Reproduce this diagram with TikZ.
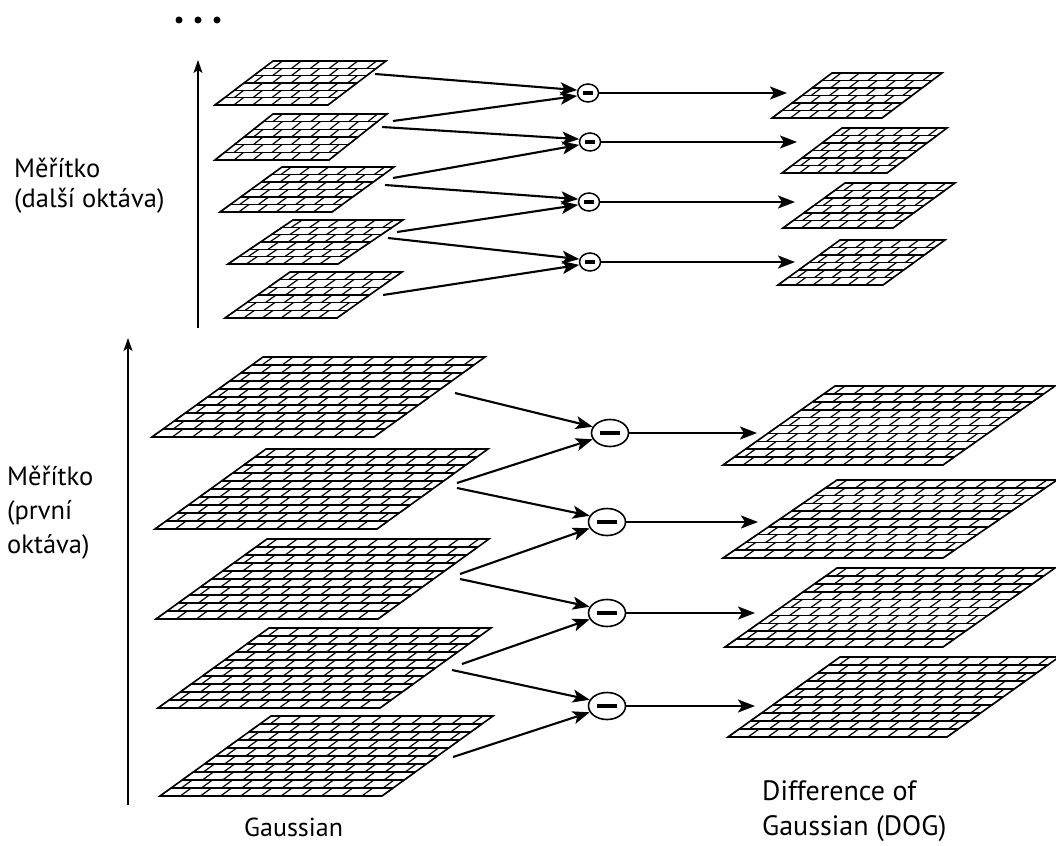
\documentclass[tikz,border=0pt]{standalone}
\usepackage{fontspec}
\setmainfont{PT Sans}
\usetikzlibrary{arrows.meta,shapes.geometric}

% Brick-patterned parallelogram: #1,#2 bottom-left corner, #3 width,
% #4 height, #5 horizontal shear, #6 rows, #7 column slots
\newcommand{\brickgrid}[7]{%
  \begin{scope}[gridline]
    \draw (#1,#2) -- ++(#3,0) -- ++(#5,-#4) -- ++(-#3,0) -- cycle;
    \pgfmathtruncatemacro\bgrows{#6-1}
    \foreach \k in {1,...,\bgrows}{
      \draw ({#1+#5*\k/#6},{#2-#4*\k/#6}) -- ++(#3,0);
    }
    \foreach \k in {0,...,\bgrows}{
      \pgfmathtruncatemacro\bgcs{mod(\k,2)}
      \pgfmathtruncatemacro\bgcn{\bgcs+2}
      \foreach \c in {\bgcs,\bgcn,...,#7}{
        \draw[brickjoint] ({#1+#3*\c/#7+#5*\k/#6},{#2-#4*\k/#6}) -- ++({#5/#6},{-#4/#6});
      }
    }
  \end{scope}}

\begin{document}
\begin{tikzpicture}[x=1pt,y=-1pt,
  gridline/.style={line width=1.6pt,black},
  brickjoint/.style={line width=1.2pt},
  arr/.style={line width=2.1pt,-{Stealth[length=17pt,width=13pt,inset=4pt]}},
  axis/.style={line width=1.7pt,-{Stealth[length=13pt,width=9pt,inset=3pt]}},
  bigminus/.style={ellipse,draw,line width=1.6pt,minimum width=37pt,minimum height=27pt,inner sep=0pt,
    path picture={\fill ([xshift=-10pt,yshift=-2pt]path picture bounding box.center) rectangle ++(20pt,4pt);}},
  smallminus/.style={ellipse,draw,line width=1.5pt,minimum width=21pt,minimum height=18pt,inner sep=0pt,
    path picture={\fill ([xshift=-5pt,yshift=-2pt]path picture bounding box.center) rectangle ++(10pt,4pt);}},
  lab/.style={align=left,inner sep=0pt,anchor=base west},
  captext/.style={font=\fontsize{28}{35}\selectfont,inner sep=0pt,anchor=base west}]
\useasboundingbox (0,0) rectangle (1056,845);

% ---------- scale axes and dots ----------
\coordinate (ax1s) at (198,328);
\coordinate (ax1e) at (198,60);
\coordinate (ax2s) at (128,805);
\coordinate (ax2e) at (128,338);
\draw[axis] (ax1s) -- (ax1e);
\draw[axis] (ax2s) -- (ax2e);
\foreach \dx/\nm in {179/d1,198/d2,217/d3}
  \fill (\dx,20) circle (3.5pt) coordinate (\nm);

% ---------- second octave ----------
\brickgrid{215}{105}{113}{44}{58}{6}{12}
\brickgrid{215}{160}{114}{46}{58}{6}{12}
\brickgrid{220}{212}{112}{45}{62}{6}{12}
\brickgrid{228}{264}{110}{44}{65}{6}{12}
\brickgrid{225}{318}{112}{46}{65}{6}{12}

\brickgrid{772}{118}{110}{45}{60}{6}{12}
\brickgrid{782}{173}{105}{45}{60}{6}{12}
\brickgrid{783}{228}{110}{45}{62}{6}{12}
\brickgrid{778}{285}{105}{45}{62}{6}{12}

\node[smallminus] (n1) at (588,93) {};
\node[smallminus] (n2) at (590,142) {};
\node[smallminus] (n3) at (589,202) {};
\node[smallminus] (n4) at (590,262) {};

\coordinate (s1) at (375,74);
\coordinate (s2) at (393,121);
\coordinate (s3) at (382,127);
\coordinate (s4) at (393,178);
\coordinate (s5) at (385,185);
\coordinate (s6) at (397,232);
\coordinate (s7) at (388,238);
\coordinate (s8) at (383,295);
\draw[arr] (s1) -- (n1.165);
\draw[arr] (s2) -- (n1.195);
\draw[arr] (s3) -- (n2.165);
\draw[arr] (s4) -- (n2.195);
\draw[arr] (s5) -- (n3.165);
\draw[arr] (s6) -- (n3.195);
\draw[arr] (s7) -- (n4.165);
\draw[arr] (s8) -- (n4.195);

\coordinate (e1) at (787,93);
\coordinate (e2) at (797,142);
\coordinate (e3) at (795,202);
\coordinate (e4) at (795,262);
\draw[arr] (n1.east) -- (e1);
\draw[arr] (n2.east) -- (e2);
\draw[arr] (n3.east) -- (e3);
\draw[arr] (n4.east) -- (e4);

% ---------- first octave ----------
\brickgrid{152}{437}{222}{80}{111}{10}{22}
\brickgrid{155}{529}{222}{80}{111}{10}{22}
\brickgrid{156}{619}{222}{80}{111}{10}{22}
\brickgrid{158}{708}{222}{80}{111}{10}{22}
\brickgrid{160}{796}{222}{80}{111}{10}{22}

\brickgrid{723}{465}{220}{79}{112}{10}{22}
\brickgrid{723}{558}{220}{78}{114}{10}{22}
\brickgrid{725}{647}{218}{79}{112}{10}{22}
\brickgrid{728}{737}{219}{80}{112}{10}{22}

\node[bigminus] (m1) at (610,433) {};
\node[bigminus] (m2) at (607,522) {};
\node[bigminus] (m3) at (607,613) {};
\node[bigminus] (m4) at (607,706) {};

\coordinate (b1) at (455,393);
\coordinate (b2) at (457,483);
\coordinate (b3) at (457,488);
\coordinate (b4) at (460,574);
\coordinate (b5) at (460,579);
\coordinate (b6) at (462,664);
\coordinate (b7) at (452,670);
\coordinate (b8) at (453,757);
\draw[arr] (b1) -- (m1.160);
\draw[arr] (b2) -- (m1.200);
\draw[arr] (b3) -- (m2.160);
\draw[arr] (b4) -- (m2.200);
\draw[arr] (b5) -- (m3.160);
\draw[arr] (b6) -- (m3.200);
\draw[arr] (b7) -- (m4.160);
\draw[arr] (b8) -- (m4.200);

\coordinate (f1) at (757,433);
\coordinate (f2) at (758,522);
\coordinate (f3) at (755,613);
\coordinate (f4) at (755,706);
\draw[arr] (m1.east) -- (f1);
\draw[arr] (m2.east) -- (f2);
\draw[arr] (m3.east) -- (f3);
\draw[arr] (m4.east) -- (f4);

% ---------- labels (base = baseline of the last line) ----------
\node[lab,font=\fontsize{26.5}{30}\selectfont] (l1) at (14,207) {Měřítko\\(další oktáva)};
\node[lab,font=\fontsize{26.5}{34}\selectfont] (l2) at (7,553) {Měřítko\\(první\\oktáva)};
\node[captext,font=\fontsize{26}{35}\selectfont] (g) at (244,836) {Gaussian};
\node[captext,align=left] (dog) at (762,835) {Difference of\\Gaussian (DOG)};
\end{tikzpicture}
\end{document}
